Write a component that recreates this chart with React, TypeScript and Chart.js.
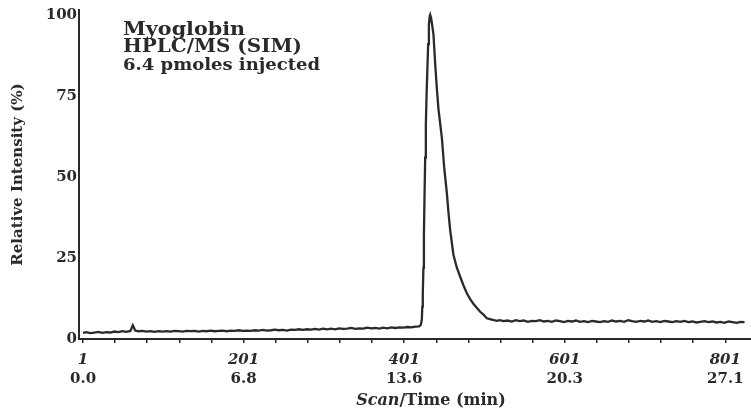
import React, { useEffect, useRef } from "react";
import { Chart, registerables } from "chart.js";

Chart.register(...registerables);

const scans = [
  1, 5, 10, 15, 20, 25, 30, 35, 40, 45, 50, 55, 60, 63, 66, 70, 75, 80, 85, 90, 95, 100,
  105, 110, 115, 120, 125, 130, 135, 140, 145, 150, 155, 160, 165, 170, 175, 180, 185, 190, 195, 200,
  205, 210, 215, 220, 225, 230, 235, 240, 245, 250, 255, 260, 265, 270, 275, 280, 285, 290, 295, 300,
  305, 310, 315, 320, 325, 330, 335, 340, 345, 350, 355, 360, 365, 370, 375, 380, 385, 390, 395, 400,
  405, 410, 415,
  419.7, 421.8, 423, 423.6, 424.2, 425, 425.6, 426.3, 427.2, 428, 429, 430, 430.9, 431.8, 432.8, 433.4,
  434.6, 437.5, 439.6, 441.8, 443.7, 448, 450.8, 454.2, 456.2, 458.3, 462.4, 466.6, 470.8, 474.9, 479.1,
  483.2, 487.4, 491.6, 495.7, 499.8, 504, 510.2, 516.5,
  520, 525, 530, 535, 540, 545, 550, 555, 560, 565, 570, 575, 580, 585, 590, 595, 600, 605, 610, 615,
  620, 625, 630, 635, 640, 645, 650, 655, 660, 665, 670, 675, 680, 685, 690, 695, 700, 705, 710, 715,
  720, 725, 730, 735, 740, 745, 750, 755, 760, 765, 770, 775, 780, 785, 790, 795, 800, 805, 810, 815,
  820, 825,
];

const intensity = [
  1.9, 2.1, 1.8, 2.0, 2.2, 1.9, 2.1, 2.0, 2.3, 2.1, 2.4, 2.2, 2.5, 4.2, 2.6, 2.4, 2.5, 2.3, 2.4, 2.2, 2.4, 2.3,
  2.4, 2.3, 2.5, 2.4, 2.3, 2.5, 2.4, 2.5, 2.3, 2.5, 2.4, 2.6, 2.4, 2.5, 2.6, 2.4, 2.6, 2.5, 2.7, 2.5,
  2.6, 2.5, 2.7, 2.6, 2.8, 2.6, 2.7, 2.9, 2.7, 2.8, 2.6, 2.9, 2.8, 3.0, 2.8, 3.0, 2.9, 3.1, 2.9, 3.2,
  3.0, 3.2, 3.0, 3.3, 3.1, 3.2, 3.4, 3.1, 3.3, 3.2, 3.5, 3.3, 3.4, 3.2, 3.5, 3.3, 3.6, 3.4, 3.6, 3.5,
  3.7, 3.6, 3.8,
  3.9, 4.4, 6, 10, 14, 22, 32, 43, 56, 66, 76, 84, 91, 97, 99.5, 100,
  99, 94, 85, 77, 71, 62, 53, 45, 39, 33.6, 26, 22, 19.2, 16.5, 14.1,
  12.3, 10.8, 9.6, 8.4, 7.5, 6.4, 6.0, 5.6,
  5.8, 5.5, 5.7, 5.4, 5.8, 5.5, 5.7, 5.3, 5.6, 5.5, 5.8, 5.4, 5.6, 5.3, 5.7, 5.5, 5.2, 5.6, 5.4, 5.7,
  5.3, 5.5, 5.2, 5.6, 5.4, 5.2, 5.5, 5.3, 5.7, 5.4, 5.6, 5.3, 5.8, 5.5, 5.3, 5.6, 5.4, 5.7, 5.3, 5.5,
  5.2, 5.6, 5.4, 5.2, 5.5, 5.3, 5.6, 5.2, 5.4, 5.1, 5.3, 5.5, 5.2, 5.4, 5.1, 5.3, 5.0, 5.4, 5.2, 5.0,
  5.3, 5.2,
];

const yTicks = [0, 25, 50, 75, 100];
const scanTicks = [1, 41, 81, 121, 161, 201, 241, 281, 321, 361, 401, 441, 481, 521, 561, 601, 641, 681, 721, 761, 801];
const majorScans = [1, 201, 401, 601, 801];
const timeLabels = ["0.0", "6.8", "13.6", "20.3", "27.1"];
const annotationLines = ["Myoglobin", "HPLC/MS (SIM)", "6.4 pmoles injected"];
const yTitle = "Relative Intensity (%)";
const xTitleItalic = "Scan";
const xTitleRest = "/Time (min)";

const FONT = '"DejaVu Serif", "Liberation Serif", serif';
const INK = "#2a2a2a";

function stretchedText(ctx: any, text: string, font: string, x: number, y: number, width: number) {
  ctx.font = font;
  const w = ctx.measureText(text).width;
  const sx = width / w;
  ctx.save();
  ctx.translate(x, y);
  ctx.scale(sx, 1);
  ctx.fillText(text, 0, 0);
  ctx.restore();
}

const textPlugin = {
  id: "textPlugin",
  afterDraw(chart: any) {
    const ctx = chart.ctx;
    ctx.save();
    ctx.fillStyle = INK;
    ctx.textAlign = "left";
    ctx.textBaseline = "alphabetic";
    stretchedText(ctx, annotationLines[0], `bold 18px ${FONT}`, 123, 35, 122);
    stretchedText(ctx, annotationLines[1], `bold 18px ${FONT}`, 123, 52, 179);
    stretchedText(ctx, annotationLines[2], `bold 16px ${FONT}`, 123, 69.5, 197);

    ctx.font = `italic bold 16px ${FONT}`;
    const w1 = ctx.measureText(xTitleItalic).width;
    ctx.font = `bold 16px ${FONT}`;
    const w2 = ctx.measureText(xTitleRest).width;
    const cx = 431;
    const x0 = cx - (w1 + w2) / 2;
    ctx.font = `italic bold 16px ${FONT}`;
    ctx.fillText(xTitleItalic, x0, 405);
    ctx.font = `bold 16px ${FONT}`;
    ctx.fillText(xTitleRest, x0 + w1, 405);
    ctx.restore();
  },
};

export default function App() {
  const ref = useRef<HTMLCanvasElement | null>(null);

  useEffect(() => {
    document.body.style.margin = "0";
    const canvas = ref.current;
    if (!canvas) return;
    const chart = new Chart(canvas, {
      type: "line",
      data: {
        datasets: [
          {
            data: scans.map((s, i) => ({ x: s, y: intensity[i] })),
            borderColor: INK,
            borderWidth: 2.3,
            pointRadius: 0,
            tension: 0,
            fill: false,
          },
        ],
      },
      options: {
        responsive: false,
        animation: false,
        layout: { padding: { top: 10, left: 0, right: 0, bottom: 0 } },
        plugins: { legend: { display: false }, tooltip: { enabled: false } },
        scales: {
          x: {
            type: "linear",
            position: "bottom",
            min: -4,
            max: 833,
            afterBuildTicks: (s: any) => {
              s.ticks = scanTicks.map((v) => ({ value: v }));
            },
            afterFit: (s: any) => {
              s.height = 28;
              s.paddingLeft = 0;
              s.paddingRight = 0;
            },
            ticks: {
              autoSkip: false,
              maxRotation: 0,
              padding: 8,
              color: INK,
              font: { family: FONT, size: 15, weight: "bold", style: "italic" },
              callback: (v: any) => (majorScans.includes(v) ? String(v) : ""),
            },
            grid: { drawOnChartArea: false, drawTicks: true, tickLength: 4, color: INK, lineWidth: 1.5 },
            border: { display: true, color: INK, width: 2 },
          },
          x2: {
            type: "linear",
            position: "bottom",
            min: -4,
            max: 833,
            afterBuildTicks: (s: any) => {
              s.ticks = majorScans.map((v) => ({ value: v }));
            },
            afterFit: (s: any) => {
              s.height = 46;
              s.paddingLeft = 0;
              s.paddingRight = 0;
            },
            ticks: {
              autoSkip: false,
              maxRotation: 0,
              padding: 3,
              color: INK,
              font: { family: FONT, size: 15, weight: "bold" },
              callback: (v: any) => timeLabels[majorScans.indexOf(v)] ?? "",
            },
            grid: { display: false, drawTicks: false },
            border: { display: false },
          },
          y: {
            type: "linear",
            min: 0,
            max: 101.5,
            afterBuildTicks: (s: any) => {
              s.ticks = yTicks.map((v) => ({ value: v }));
            },
            afterFit: (s: any) => {
              s.width = 79;
              s.paddingTop = 0;
              s.paddingBottom = 0;
            },
            ticks: {
              padding: 2,
              color: INK,
              font: { family: FONT, size: 15, weight: "bold" },
            },
            grid: { drawOnChartArea: false, drawTicks: false },
            border: { display: true, color: INK, width: 2 },
            title: {
              display: true,
              text: yTitle,
              color: INK,
              font: { family: FONT, size: 15, weight: "bold" },
              padding: { top: 9, bottom: 0 },
            },
          },
        },
      },
      plugins: [textPlugin],
    } as any);
    return () => chart.destroy();
  }, []);

  return (
    <div style={{ width: 751, height: 413 }}>
      <canvas ref={ref} width={751} height={413} style={{ display: "block" }} />
    </div>
  );
}
